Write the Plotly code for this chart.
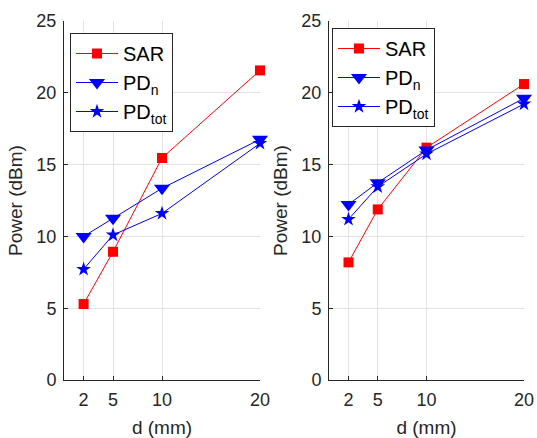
import plotly.graph_objects as go

d = [2, 5, 10, 20]
left_sar = [5.29, 8.93, 15.46, 21.56]
left_pdn = [10.0, 11.26, 13.35, 16.76]
left_pdtot = [7.71, 10.1, 11.6, 16.48]
right_sar = [8.19, 11.88, 16.18, 20.61]
right_pdn = [12.23, 13.74, 16.02, 19.62]
right_pdtot = [11.19, 13.46, 15.74, 19.22]

x_ticks = [2, 5, 10, 20]
y_ticks = [0, 5, 10, 15, 20, 25]
names = ["SAR", "PD<sub>n</sub>", "PD<sub>tot</sub>"]

W, H = 537, 438
font = "Liberation Sans, Arial, sans-serif"
fig = go.Figure()

styles = [
    dict(color="#ff0000", symbol="square", size=10),
    dict(color="#0000ff", symbol="triangle-down", size=14),
    dict(color="#0000ff", symbol="star", size=11),
]

for series, xa, ya, leg in [
    ((left_sar, left_pdn, left_pdtot), "x", "y", "legend"),
    ((right_sar, right_pdn, right_pdtot), "x2", "y2", "legend2"),
]:
    for vals, name, st in zip(series, names, styles):
        fig.add_trace(go.Scatter(
            x=d, y=vals, name=name, mode="lines+markers",
            line=dict(color=st["color"], width=1),
            marker=dict(color=st["color"], symbol=st["symbol"], size=st["size"],
                        line=dict(width=0)),
            xaxis=xa, yaxis=ya, legend=leg, cliponaxis=False,
        ))

ydom = [1 - 380 / H, 1 - 21 / H]
axcommon = dict(
    showline=True, linecolor="#262626", linewidth=1,
    ticks="inside", ticklen=4, tickcolor="#262626",
    showgrid=True, gridcolor="#e3e3e3", gridwidth=1, zeroline=False,
    tickfont=dict(family=font, size=18, color="#262626"), mirror=False,
    ticklabeloverflow="allow", automargin=False, ticklabelstandoff=3,
)
xcommon = dict(axcommon, range=[0, 20], tickvals=x_ticks,
               title=dict(text="d (mm)", font=dict(family=font, size=19, color="#262626"), standoff=13))
ycommon = dict(axcommon, range=[0, 25], tickvals=y_ticks,
               title=dict(text="Power (dBm)", font=dict(family=font, size=19, color="#262626"), standoff=8))

legcommon = dict(
    bgcolor="white", bordercolor="#262626", borderwidth=1,
    font=dict(family=font, size=20, color="#000000"),
    xanchor="left", yanchor="top", xref="paper", yref="paper",
    tracegroupgap=0, itemwidth=42,
)

fig.update_layout(
    width=W, height=H,
    margin=dict(l=0, r=0, t=0, b=0, autoexpand=False),
    paper_bgcolor="white", plot_bgcolor="white",
    xaxis=dict(xcommon, domain=[64 / W, 260 / W], anchor="y"),
    yaxis=dict(ycommon, domain=ydom, anchor="x"),
    xaxis2=dict(xcommon, domain=[329 / W, 524 / W], anchor="y2"),
    yaxis2=dict(ycommon, domain=ydom, anchor="x2"),
    legend=dict(legcommon, x=70 / W, y=1 - 33 / H),
    legend2=dict(legcommon, x=332 / W, y=1 - 28 / H),
    showlegend=True,
)

fig.write_html("out.html", config={"displayModeBar": False},
               post_script="document.body.style.margin='0';")
